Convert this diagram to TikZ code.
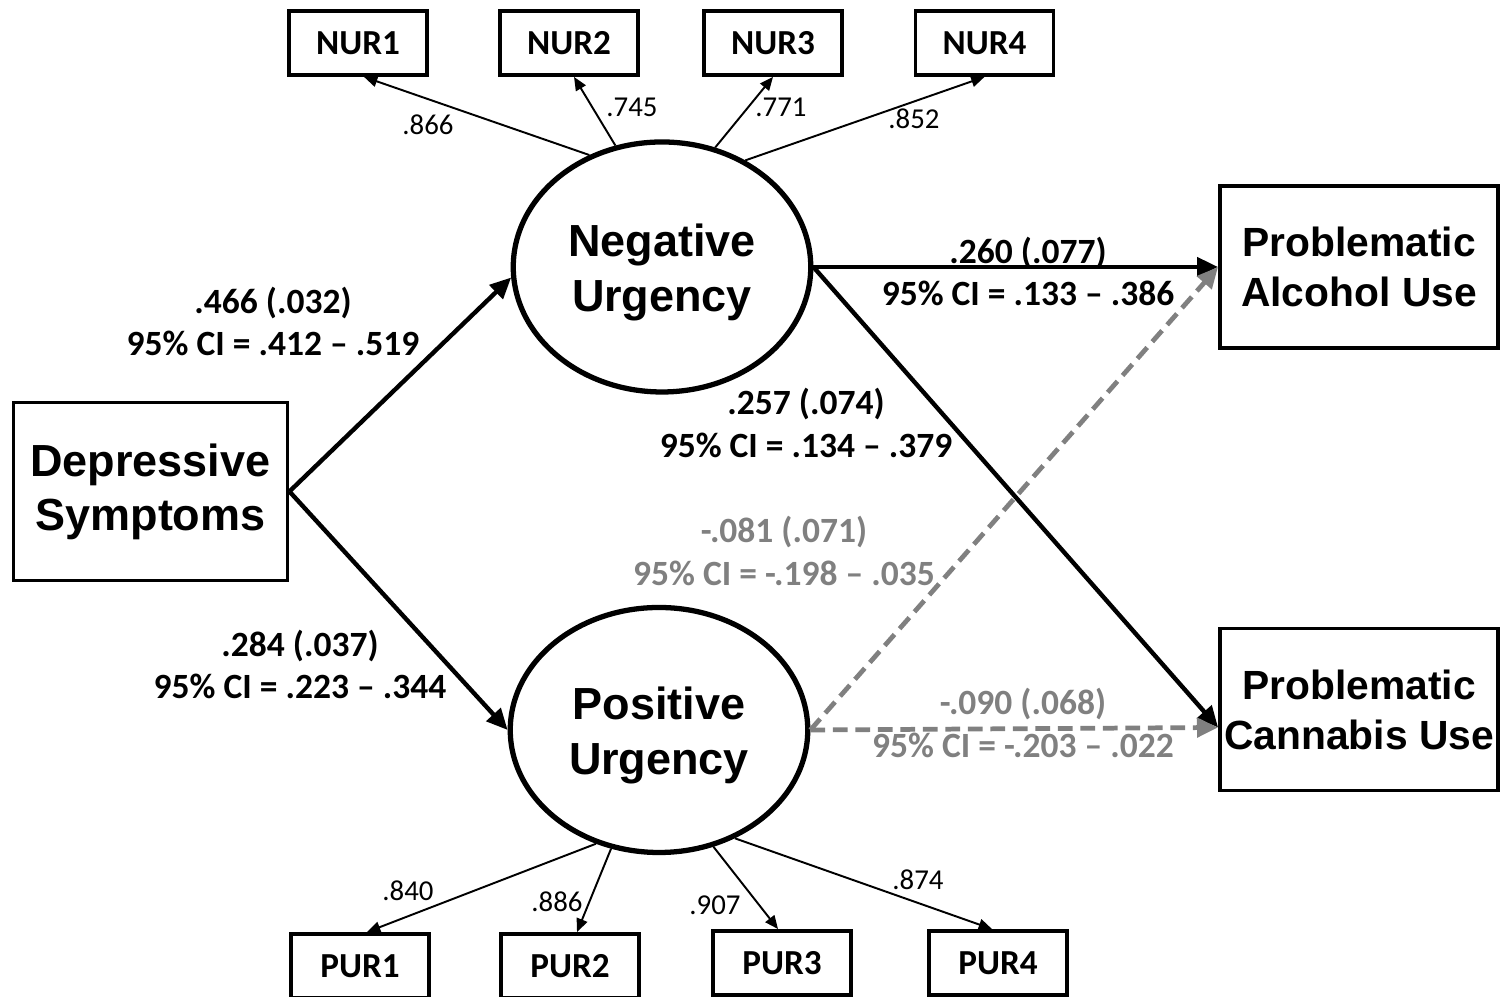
\documentclass[tikz,border=0pt]{standalone}
\usepackage{fontspec}
\setmainfont{Carlito}
\newfontfamily\headfont{Liberation Sans}
\usetikzlibrary{arrows.meta,shapes.geometric,positioning}
\definecolor{nsgray}{RGB}{128,128,128}

\begin{document}
\begin{tikzpicture}

% Definitions
\tikzstyle{observed} = [rectangle, draw=black, line width=1.1pt, minimum width=2.74cm, minimum height=1.78cm, inner sep=1pt, align=center, font=\headfont\bfseries\fontsize{12.8}{15.4}\selectfont]
\tikzstyle{outcome} = [observed, minimum width=2.78cm, minimum height=1.62cm, font=\headfont\bfseries\fontsize{11.6}{14.2}\selectfont]
\tikzstyle{latent} = [ellipse, draw=black, line width=1.5pt, minimum width=2.975cm, minimum height=2.5cm, inner sep=1pt, align=center, font=\headfont\bfseries\fontsize{12.8}{15.4}\selectfont]
\tikzstyle{indicator} = [rectangle, draw=black, line width=1.1pt, minimum width=1.38cm, minimum height=0.64cm, font=\bfseries\fontsize{10}{12}\selectfont]
\tikzstyle{arrow} = [line width=1.25pt, -{Triangle[length=6pt,width=5.4pt]}]
\tikzstyle{nsarrow} = [arrow, nsgray, line width=1.35pt, dash pattern=on 4.2pt off 2.2pt]
\tikzstyle{loading} = [line width=0.55pt, -{Triangle[length=3.8pt,width=3.2pt]}]
\tikzstyle{coef} = [align=center, font=\bfseries\fontsize{10.1}{12.2}\selectfont]
\tikzstyle{loadlbl} = [font=\fontsize{8.2}{10}\selectfont]

\useasboundingbox (0,0) rectangle (15.02,9.97);
\clip (0,0) rectangle (15.02,9.97);

\node (DS) [observed] at (1.505,5.055) {Depressive\\Symptoms};
\node (NU) [latent, right of=DS, xshift=4.115cm, yshift=2.245cm] {\\[-3pt]Negative\\Urgency};
\node (PU) [latent, right of=DS, xshift=4.085cm, yshift=-2.385cm, minimum height=2.45cm] {\\[-3pt]Positive\\Urgency};
\node (PA) [outcome, right of=NU, xshift=5.97cm] {Problematic\\Alcohol Use};
\node (PC) [outcome, right of=PU, xshift=6.0cm, yshift=0.205cm] {Problematic\\Cannabis Use};

\node (NUR1) [indicator] at (3.58,9.54) {NUR1};
\node (NUR2) [indicator, right of=NUR1, xshift=1.11cm] {NUR2};
\node (NUR3) [indicator, right of=NUR2, xshift=1.04cm] {NUR3};
\node (NUR4) [indicator, right of=NUR3, xshift=1.115cm] {NUR4};

\node (PUR1) [indicator] at (3.60,0.31) {PUR1};
\node (PUR2) [indicator, right of=PUR1, xshift=1.10cm] {PUR2};
\node (PUR3) [indicator, right of=PUR2, xshift=1.12cm, yshift=0.03cm] {PUR3};
\node (PUR4) [indicator, right of=PUR3, xshift=1.16cm] {PUR4};

% structural paths
\draw [arrow] (DS.east) -- (NU.184);
\draw [arrow] (DS.east) -- (PU.180);
\draw [arrow] (NU.east) -- (PA.west);
\draw [arrow] (NU.east) -- ([yshift=-1.8mm]PC.west);
\draw [nsarrow] (PU.east) -- (PA.west);
\draw [nsarrow] (PU.east) -- ([yshift=-1.8mm]PC.west);

% measurement paths
\draw [loading] (NU.123) -- ([xshift=0.6mm]NUR1.south);
\draw [loading] (NU.111) -- ([xshift=0.5mm]NUR2.south);
\draw [loading] (NU.66) -- (NUR3.south);
\draw [loading] (NU.52) -- (NUR4.south);
\draw [loading] (PU.241) -- ([xshift=0.7mm]PUR1.north);
\draw [loading] (PU.248) -- ([xshift=0.7mm]PUR2.north);
\draw [loading] (PU.295) -- ([xshift=-0.4mm]PUR3.north);
\draw [loading] (PU.305) -- ([xshift=-0.6mm]PUR4.north);

\node (cDSNU) [coef] at (2.73,6.755) {.466 (.032)\\95\% CI = .412 -- .519};
\node (cDSPU) [coef] at (3.00,3.325) {.284 (.037)\\95\% CI = .223 -- .344};
\node (cNUPA) [coef] at (10.28,7.255) {.260 (.077)\\95\% CI = .133 -- .386};
\node (cNUPC) [coef] at (8.06,5.74) {.257 (.074)\\95\% CI = .134 -- .379};
\node (cPUPA) [coef, text=nsgray] at (7.84,4.46) {-.081 (.071)\\95\% CI = -.198 -- .035};
\node (cPUPC) [coef, text=nsgray] at (10.23,2.74) {-.090 (.068)\\95\% CI = -.203 -- .022};

\node (l1) [loadlbl] at (4.28,8.72) {.866};
\node (l2) [loadlbl] at (6.32,8.90) {.745};
\node (l3) [loadlbl] at (7.81,8.90) {.771};
\node (l4) [loadlbl] at (9.14,8.78) {.852};
\node (l5) [loadlbl] at (4.08,1.06) {.840};
\node (l6) [loadlbl] at (5.57,0.95) {.886};
\node (l7) [loadlbl] at (7.15,0.92) {.907};
\node (l8) [loadlbl] at (9.18,1.17) {.874};

\end{tikzpicture}
\end{document}
